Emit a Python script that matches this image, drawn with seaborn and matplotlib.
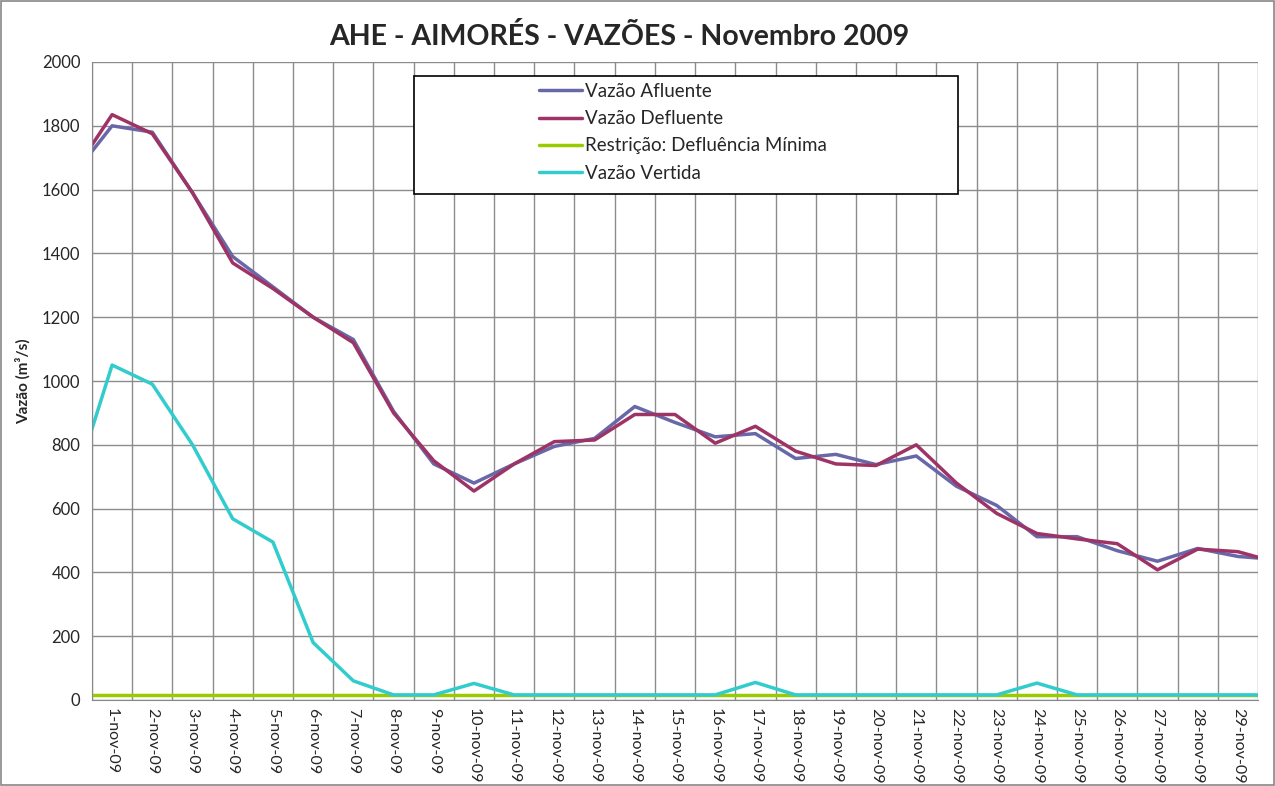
import numpy as np
import pandas as pd
import matplotlib
matplotlib.use("Agg")
import matplotlib.pyplot as plt
from matplotlib.patches import Rectangle
import seaborn as sns

# dias 0 (31-out) e 30 (30-nov) ficam fora do eixo, só dão a ponta das linhas
dias = list(range(0, 31))
rotulos = [f"{d}-nov-09" for d in range(1, 30)]

afluente = [1640, 1800, 1780, 1590, 1390, 1295, 1200, 1130, 905, 740, 680,
            740, 795, 820, 920, 870, 825, 835, 757, 770, 738,
            765, 670, 610, 512, 512, 468, 435, 475, 450, 440]
defluente = [1645, 1835, 1775, 1590, 1370, 1290, 1200, 1120, 900, 750, 655,
             740, 810, 815, 895, 895, 805, 858, 780, 740, 735,
             800, 680, 585, 522, 505, 490, 408, 473, 465, 430]
restricao = [16] * 31
vertida = [650, 1050, 990, 800, 568, 495, 180, 60, 16, 16, 52,
           16, 16, 16, 16, 16, 16, 55, 16, 16, 16,
           16, 16, 16, 53, 16, 16, 16, 16, 16, 16]

series = ["Vazão Afluente", "Vazão Defluente", "Restrição: Defluência Mínima", "Vazão Vertida"]
cores = ["#6868A8", "#9E3366", "#99CC00", "#33CCCC"]

df = pd.DataFrame({"dia": dias * 4,
                   "vazao": afluente + defluente + restricao + vertida,
                   "serie": np.repeat(series, len(dias))})

sns.set_style("white")
plt.rcParams["font.family"] = ["Lato", "DejaVu Sans"]

fig = plt.figure(figsize=(12.75, 7.86), dpi=100)
ax = fig.add_axes([92 / 1275, 1 - 700 / 786, 1166 / 1275, 638 / 786])

sns.lineplot(data=df, x="dia", y="vazao", hue="serie", hue_order=series,
             palette=cores, linewidth=2.5, ax=ax, legend=True, sort=False)

ax.set_xlim(0.5, 29.5)
ax.set_ylim(0, 2000)
ax.set_yticks(range(0, 2001, 200))
ax.set_xticks(range(1, 30))
ax.set_xticklabels(rotulos, rotation=-90, fontsize=11.5)
ax.set_xticks(np.arange(0.5, 30, 1), minor=True)
ax.tick_params(axis="x", which="major", length=0, pad=6)
ax.tick_params(axis="x", which="minor", length=5, color="#888888", direction="out")
ax.tick_params(axis="y", length=5, color="#888888", direction="out", labelsize=12)
ax.grid(False)
ax.grid(True, axis="y", color="#8c8c8c", linewidth=1)
ax.grid(True, axis="x", which="minor", color="#8c8c8c", linewidth=1)
ax.set_axisbelow(True)
for lado in ["top", "right"]:
    ax.spines[lado].set_visible(False)
for lado in ["left", "bottom"]:
    ax.spines[lado].set_color("#888888")
ax.set_xlabel("")
ax.set_ylabel("Vazão (m³/s)", fontsize=11, fontweight="bold", labelpad=8)

# legenda com caixa larga como no original
leg = ax.legend(loc="upper left", bbox_to_anchor=(0.372, 0.988), frameon=False,
                fontsize=13.5, handlelength=2.3, handletextpad=0.15,
                labelspacing=0.55, borderpad=0.2)
ax.add_patch(Rectangle((0.276, 0.793), 0.467, 0.185, transform=ax.transAxes,
                       facecolor="white", edgecolor="black", linewidth=1.2, zorder=4))
leg.set_zorder(5)

fig.suptitle("AHE - AIMORÉS - VAZÕES - Novembro 2009", x=0.486, y=0.971,
             fontsize=20.5, fontweight="bold")
fig.patches.append(Rectangle((0.001, 0.001), 0.998, 0.998, transform=fig.transFigure,
                             fill=False, edgecolor="#888888", linewidth=1.2))

fig.savefig("out.png", dpi=100, facecolor="white")
